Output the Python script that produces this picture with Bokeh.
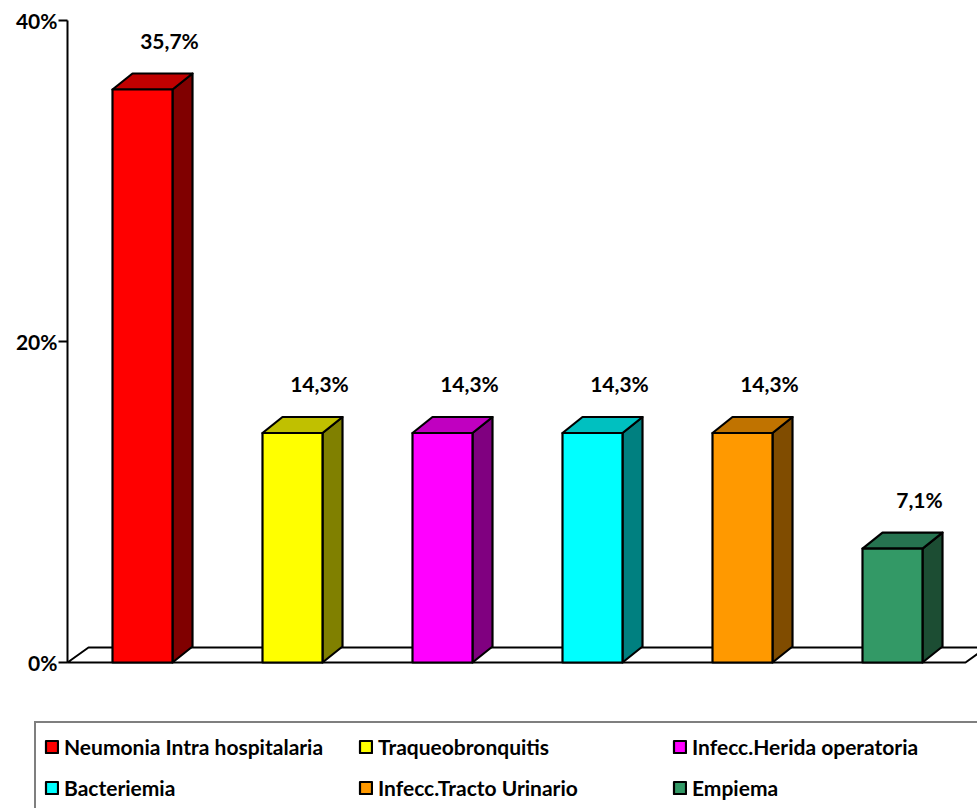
from bokeh.plotting import figure
from bokeh.models import Range1d, FixedTicker, Legend, LegendItem
from bokeh.core.properties import value
from bokeh.embed import file_html
from bokeh.resources import INLINE

categories = ["Neumonia Intra hospitalaria", "Traqueobronquitis", "Infecc.Herida operatoria",
              "Bacteriemia", "Infecc.Tracto Urinario", "Empiema"]
values = [35.7, 14.3, 14.3, 14.3, 14.3, 7.1]
labels = ["35,7%", "14,3%", "14,3%", "14,3%", "14,3%", "7,1%"]
front_colors = ["#FF0000", "#FFFF00", "#FF00FF", "#00FFFF", "#FF9900", "#339966"]
top_colors = ["#C00000", "#C0C000", "#C000C0", "#00C0C0", "#C07300", "#267350"]
side_colors = ["#800000", "#808000", "#800080", "#008080", "#804C00", "#1C4D33"]
y_ticks = [0, 20, 40]
y_tick_labels = {0: "0%", 20: "20%", 40: "40%"}

FONT = "Lato"
W, H = 977, 808
PX_X = 150.0          # pixels per category step
PX_Y = 642.0 / 40.0   # pixels per percent
AX_X = 67.0           # pixel column of the value axis
ZERO_Y = 662.0        # pixel row of 0%

x_min = -0.5 - AX_X / PX_X
x_max = -0.5 + (W - AX_X) / PX_X
y_max = 40 + 20 / PX_Y
y_min = -(H - ZERO_Y) / PX_Y

p = figure(width=W, height=H, output_backend="svg", toolbar_location=None,
           x_range=Range1d(x_min, x_max), y_range=Range1d(y_min, y_max),
           min_border_left=0, min_border_right=0, min_border_top=0, min_border_bottom=0,
           x_axis_type=None)
p.outline_line_color = None
p.grid.visible = False
p.background_fill_color = "white"
p.border_fill_color = "white"

yax = p.yaxis[0]
yax.fixed_location = -0.5
yax.bounds = (0, 40)
yax.ticker = FixedTicker(ticks=y_ticks)
yax.major_label_overrides = y_tick_labels
yax.minor_tick_line_color = None
yax.major_tick_in = 0
yax.major_tick_out = 9
yax.axis_line_width = 2
yax.major_tick_line_width = 2
yax.axis_line_color = "black"
yax.major_tick_line_color = "black"
yax.major_label_text_font = FONT
yax.major_label_text_font_style = "bold"
yax.major_label_text_font_size = "21px"
yax.major_label_text_color = "black"
yax.major_label_standoff = 1

# depth in data units
bw = 60 / PX_X
dx = 20 / PX_X
dy = 16 / PX_Y
fdx = 21 / PX_X
fdy = 15 / PX_Y

# floor
fx_end = -0.5 + (965 - AX_X) / PX_X
p.patch([-0.5, fx_end, fx_end + fdx, -0.5 + fdx], [0, 0, fdy, fdy],
        fill_color="white", line_color="black", line_width=2)

xs = list(range(len(values)))
renderers = []
for i, v in enumerate(values):
    x0, x1 = i - bw / 2, i + bw / 2
    p.patch([x1, x1 + dx, x1 + dx, x1], [0, dy, v + dy, v],
            fill_color=side_colors[i], line_color="black", line_width=2.2, line_join="round")
    p.patch([x0, x1, x1 + dx, x0 + dx], [v, v, v + dy, v + dy],
            fill_color=top_colors[i], line_color="black", line_width=2.2, line_join="round")
    r = p.quad(left=x0, right=x1, bottom=0, top=v, fill_color=front_colors[i],
               line_color="black", line_width=2.2, line_join="round")
    renderers.append(r)

p.text(x=xs, y=values, text=labels, x_offset=27, y_offset=-49,
       text_align="center", text_baseline="middle",
       text_font=value(FONT), text_font_style="bold", text_font_size="21px", text_color="black")

# legend: 3 columns, filled column by column -> reorder to read row by row
order = [0, 3, 1, 4, 2, 5]
legend_items = [LegendItem(label=categories[k], renderers=[renderers[k]]) for k in order]
legend = Legend(items=legend_items, ncols=3, location=(34, -4),
                label_text_font=FONT, label_text_font_style="bold", label_text_font_size="21px",
                label_text_color="black", label_width=283, label_height=30,
                glyph_width=15, glyph_height=15, label_standoff=5, spacing=11,
                padding=8, margin=0, border_line_color="black", border_line_width=2,
                background_fill_color="white", background_fill_alpha=1.0)
p.add_layout(legend, "center")

open("out.html", "w").write(file_html(p, INLINE))
